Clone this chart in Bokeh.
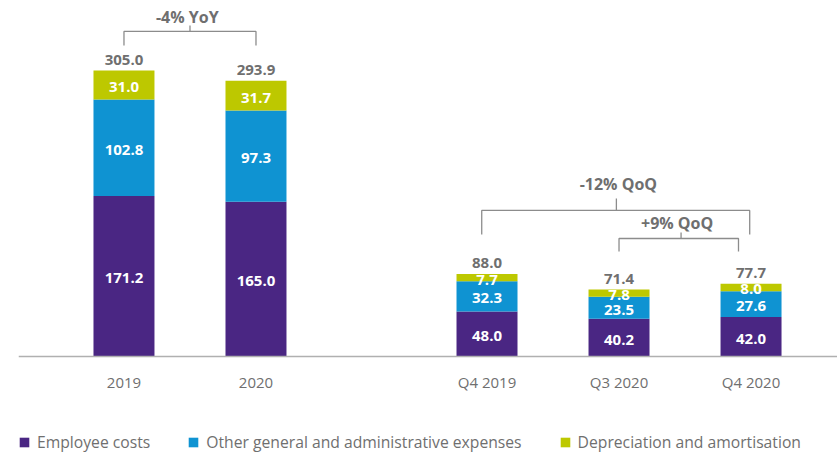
from bokeh.plotting import figure
from bokeh.models import ColumnDataSource, FixedTicker, Legend, LegendItem, Range1d
from bokeh.core.properties import value
from bokeh.embed import file_html
from bokeh.resources import INLINE

# ---- data ----
periods = ["2019", "2020", "Q4 2019", "Q3 2020", "Q4 2020"]
employee = [171.2, 165.0, 48.0, 40.2, 42.0]
other_ga = [102.8, 97.3, 32.3, 23.5, 27.6]
depreciation = [31.0, 31.7, 7.7, 7.8, 8.0]
totals = [305.0, 293.9, 88.0, 71.4, 77.7]
series_names = ["Employee costs", "Other general and administrative expenses",
                "Depreciation and amortisation"]
change_labels = ["-4% YoY", "-12% QoQ", "+9% QoQ"]

# ---- layout / style ----
xpos = [0, 1] + [2.75 + i for i in range(3)]
colors = ["#4a2683", "#0f93d2", "#bdc800"]
FONT = "Open Sans"
GREY = "#6f6f6f"
keys = ["employee", "other", "dep"]

src = ColumnDataSource(dict(x=xpos, employee=employee, other=other_ga, dep=depreciation))

p = figure(width=837, height=453, output_backend="svg", toolbar_location=None,
           x_range=Range1d(-0.799, 5.405), y_range=Range1d(-103.4, 379.5),
           min_border_left=18, min_border_right=0, min_border_top=0, min_border_bottom=0)
p.outline_line_color = None
p.xgrid.visible = False
p.ygrid.visible = False
p.yaxis.visible = False

rs = p.vbar_stack(keys, x="x", width=0.462, color=colors, line_color=None, source=src)

# segment labels
seg_x, seg_y, seg_t = [], [], []
for i in range(len(periods)):
    base = 0.0
    for vals in (employee, other_ga, depreciation):
        v = vals[i]
        seg_x.append(xpos[i])
        seg_y.append(base + v / 2)
        seg_t.append(f"{v:.1f}")
        base += v
p.text(x=seg_x, y=seg_y, text=seg_t, text_align="center", text_baseline="middle",
       y_offset=2, text_color="white", text_font=value(FONT), text_font_style="bold",
       text_font_size="15px")

# total labels
p.text(x=xpos, y=totals, text=[f"{t:.1f}" for t in totals], text_align="center",
       text_baseline="middle", y_offset=-10.5, text_color=GREY, text_font=value(FONT),
       text_font_style="bold", text_font_size="15px")

# change brackets (layout positions in data units)
br = [
    # x0, x1, xc, y_h, y_leg, y_tick, tx, ty
    (0.0, 1.0, 0.5, 346.5, 331.6, 352.9, 0.48, 361.4),
    (2.71, 4.74, 3.73, 155.7, 130.0, 168.4, 3.745, 184.4),
    (3.75, 4.655, 4.22, 125.8, 111.9, 132.2, 4.19, 141.8),
]
xs, ys = [], []
for (x0, x1, xc, yh, yl, yt, tx, ty) in br:
    xs.append([x0, x0, x1, x1]); ys.append([yl, yh, yh, yl])
    xs.append([xc, xc]); ys.append([yh, yt])
p.multi_line(xs=xs, ys=ys, line_color="#8c8c8c", line_width=1.3)
p.text(x=[b[6] for b in br], y=[b[7] for b in br], text=change_labels,
       text_align="center", text_baseline="middle", text_color=GREY,
       text_font=value(FONT), text_font_style="bold", text_font_size="16px")

# x axis, pinned at zero inside the frame
ax = p.xaxis[0]
ax.fixed_location = 0
ax.ticker = FixedTicker(ticks=xpos)
ax.major_label_overrides = {x: lab for x, lab in zip(xpos, periods)}
ax.axis_line_color = "#b0b0b0"
ax.axis_line_width = 1.5
ax.major_tick_line_color = None
ax.minor_tick_line_color = None
ax.major_tick_out = 0
ax.major_label_standoff = 15
ax.major_label_text_font = FONT
ax.major_label_text_font_size = "15px"
ax.major_label_text_color = GREY

legend = Legend(items=[LegendItem(label=n, renderers=[r]) for n, r in zip(series_names, rs)],
                orientation="horizontal", location=(0, 0), padding=0, margin=0,
                spacing=37, label_standoff=7, glyph_width=12, glyph_height=12,
                label_height=16, label_text_font=FONT, label_text_font_size="15.7px",
                label_text_color=GREY, border_line_color=None, background_fill_alpha=0)
p.add_layout(legend)

open("out.html", "w").write(file_html(p, INLINE))
